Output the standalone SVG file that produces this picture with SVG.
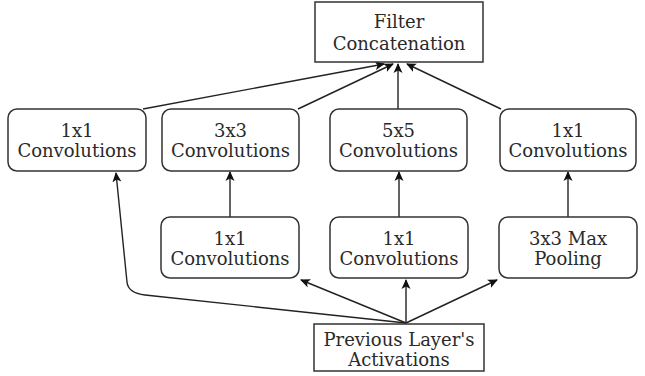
<svg xmlns="http://www.w3.org/2000/svg" width="645" height="376" viewBox="0 0 645 376">
  <defs>
    <marker id="arrow" viewBox="0 0 10 10" refX="9" refY="5" markerWidth="10" markerHeight="10" markerUnits="userSpaceOnUse" orient="auto">
      <path d="M0,0.5 L10,5 L0,9.5 L2.5,5 Z" fill="#111"/>
    </marker>
  </defs>
  <style>
    .box { fill: #fff; stroke: #333; stroke-width: 1.5; }
    .label { font-family: "DejaVu Serif", "Liberation Serif", serif; font-size: 18px; fill: #2a2a2a; text-anchor: middle; }
    .edge { fill: none; stroke: #222; stroke-width: 1.4; marker-end: url(#arrow); }
  </style>
  <rect width="645" height="376" fill="#fff"/>

  <g id="connectors">
    <!-- branches into the concatenation -->
    <path class="edge" d="M143,109 L384,64"/>
    <path class="edge" d="M298,109 L393,64"/>
    <path class="edge" d="M398,109 L398,64"/>
    <path class="edge" d="M501,109 L407,64"/>
    <!-- reductions into the larger convolutions -->
    <path class="edge" d="M230,217 L230,172"/>
    <path class="edge" d="M399,217 L399,172"/>
    <path class="edge" d="M568,217 L568,172"/>
    <!-- inputs from the previous layer -->
    <path class="edge" d="M406,323 L301,280"/>
    <path class="edge" d="M406,323 L406,280"/>
    <path class="edge" d="M406,323 L497,280"/>
    <path class="edge" d="M406,323 L145,295 Q128,293 127,282 L116,173"/>
  </g>

  <g id="concat">
    <rect class="box" x="315" y="2" width="168" height="60"/>
    <text class="label" x="399" y="28">Filter</text>
    <text class="label" x="399" y="50">Concatenation</text>
  </g>

  <g id="conv1x1_a">
    <rect class="box" x="8" y="109" width="138" height="62" rx="9"/>
    <text class="label" x="77" y="137">1x1</text>
    <text class="label" x="77" y="157">Convolutions</text>
  </g>
  <g id="conv3x3">
    <rect class="box" x="162" y="109" width="137" height="62" rx="9"/>
    <text class="label" x="230.5" y="137">3x3</text>
    <text class="label" x="230.5" y="157">Convolutions</text>
  </g>
  <g id="conv5x5">
    <rect class="box" x="330" y="109" width="137" height="62" rx="9"/>
    <text class="label" x="398.5" y="137">5x5</text>
    <text class="label" x="398.5" y="157">Convolutions</text>
  </g>
  <g id="conv1x1_d">
    <rect class="box" x="500" y="109" width="136" height="62" rx="9"/>
    <text class="label" x="568" y="137">1x1</text>
    <text class="label" x="568" y="157">Convolutions</text>
  </g>

  <g id="conv1x1_b">
    <rect class="box" x="161" y="217" width="138" height="61" rx="9"/>
    <text class="label" x="230" y="245">1x1</text>
    <text class="label" x="230" y="265">Convolutions</text>
  </g>
  <g id="conv1x1_c">
    <rect class="box" x="330" y="217" width="138" height="61" rx="9"/>
    <text class="label" x="399" y="245">1x1</text>
    <text class="label" x="399" y="265">Convolutions</text>
  </g>
  <g id="maxpool">
    <rect class="box" x="499" y="217" width="138" height="61" rx="9"/>
    <text class="label" x="568" y="245">3x3 Max</text>
    <text class="label" x="568" y="265">Pooling</text>
  </g>

  <g id="previous">
    <rect class="box" x="314" y="324" width="170" height="47"/>
    <text class="label" x="399" y="346">Previous Layer's</text>
    <text class="label" x="399" y="366">Activations</text>
  </g>
</svg>
